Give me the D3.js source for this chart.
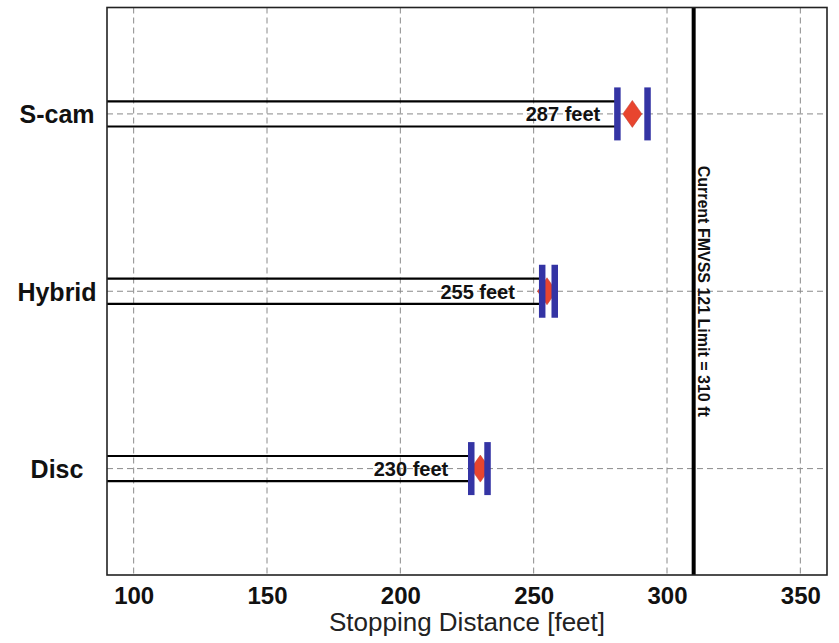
<!DOCTYPE html>
<html>
<head>
<meta charset="utf-8">
<script src="https://cdn.jsdelivr.net/npm/d3@7"></script>
<style>
  html, body { margin: 0; padding: 0; background: #fff; }
  svg { display: block; font-family: "Liberation Sans", Arial, sans-serif; }
</style>
</head>
<body>
<svg id="chart" width="839" height="643"></svg>
<script>
// ---- data ----
const categories = ["Disc", "Hybrid", "S-cam"];
const meanDistance = [230, 255, 287];
const lowerBound = [226.6, 253.2, 281.4];
const upperBound = [232.7, 257.9, 292.7];
const pointLabels = ["230 feet", "255 feet", "287 feet"];
const xTicks = [100, 150, 200, 250, 300, 350];
const limitValue = 310;
const limitLabel = "Current FMVSS 121 Limit = 310 ft";
const xAxisTitle = "Stopping Distance [feet]";

// ---- layout ----
const svg = d3.select("#chart");
const pL = 107, pR = 827, pT = 7.5, pB = 575;

const x = d3.scaleLinear().domain([90, 360]).range([pL, pR]);
const y = d3.scaleLinear().domain([0.4, 3.6]).range([pB, pT]);
const catPos = categories.map((c, i) => i + 1);

const gridColor = "#8a8a8a";
const blue = "#3434a4";
const red = "#e8452f";

// vertical gridlines
svg.append("g").selectAll("line").data(xTicks).join("line")
  .attr("x1", d => x(d)).attr("x2", d => x(d))
  .attr("y1", pT).attr("y2", pB)
  .attr("stroke", gridColor).attr("stroke-width", 1)
  .attr("stroke-dasharray", "6,4");

// horizontal gridlines at categories
svg.append("g").selectAll("line").data(catPos).join("line")
  .attr("x1", pL).attr("x2", pR)
  .attr("y1", d => y(d)).attr("y2", d => y(d))
  .attr("stroke", gridColor).attr("stroke-width", 1)
  .attr("stroke-dasharray", "6,4");

// bars (outline only, two horizontal edges)
const barHalf = 12.6;
const bars = svg.append("g");
categories.forEach((c, i) => {
  const cy = y(catPos[i]);
  [cy - barHalf, cy + barHalf].forEach(yy => {
    bars.append("line")
      .attr("x1", x(90)).attr("x2", x(lowerBound[i]))
      .attr("y1", yy).attr("y2", yy)
      .attr("stroke", "#000").attr("stroke-width", 2.2);
  });
});

// point labels
svg.append("g").selectAll("text").data(categories).join("text")
  .attr("x", (d, i) => x(meanDistance[i] - 26))
  .attr("y", (d, i) => y(catPos[i]) + 7.5)
  .attr("text-anchor", "middle")
  .attr("font-size", 20).attr("font-weight", "bold")
  .attr("fill", "#111")
  .text((d, i) => pointLabels[i]);

// diamonds
const dw = 9.5, dh = 13.5;
svg.append("g").selectAll("path").data(categories).join("path")
  .attr("d", (d, i) => {
    const cx = x(meanDistance[i]), cy = y(catPos[i]);
    return `M${cx},${cy - dh}L${cx + dw},${cy}L${cx},${cy + dh}L${cx - dw},${cy}Z`;
  })
  .attr("fill", red).attr("stroke", "#c0392b").attr("stroke-width", 0.5);

// interval end bars
const ebHalf = 26.5;
const ends = svg.append("g");
categories.forEach((c, i) => {
  const cy = y(catPos[i]);
  [lowerBound[i], upperBound[i]].forEach(v => {
    ends.append("line")
      .attr("x1", x(v)).attr("x2", x(v))
      .attr("y1", cy - ebHalf).attr("y2", cy + ebHalf)
      .attr("stroke", blue).attr("stroke-width", 6.5);
  });
});

// limit line
svg.append("line")
  .attr("x1", x(limitValue)).attr("x2", x(limitValue))
  .attr("y1", pT).attr("y2", pB)
  .attr("stroke", "#000").attr("stroke-width", 4);

svg.append("text")
  .attr("transform", `translate(${x(limitValue) + 4},${y(2)}) rotate(90)`)
  .attr("text-anchor", "middle")
  .attr("font-size", 16).attr("font-weight", "bold")
  .attr("fill", "#111")
  .text(limitLabel);

// frame
svg.append("rect")
  .attr("x", pL).attr("y", pT)
  .attr("width", pR - pL).attr("height", pB - pT)
  .attr("fill", "none").attr("stroke", "#222").attr("stroke-width", 1.6);

// x axis
const xAxis = d3.axisBottom(x).tickValues(xTicks).tickSize(0).tickPadding(0);
const gx = svg.append("g").attr("transform", `translate(0,${pB})`).call(xAxis);
gx.select(".domain").remove();
gx.selectAll("text")
  .attr("dy", null).attr("y", 29)
  .attr("font-size", 24).attr("font-weight", "bold")
  .attr("font-family", "Liberation Sans, Arial, sans-serif")
  .attr("fill", "#111");

// y category labels
const yAxis = d3.axisLeft(y).tickValues(catPos).tickFormat((d, i) => categories[i]).tickSize(0);
const gy = svg.append("g").attr("transform", `translate(${pL},0)`).call(yAxis);
gy.select(".domain").remove();
gy.selectAll("text")
  .attr("x", 57 - pL).attr("dy", "0.35em")
  .attr("text-anchor", "middle")
  .attr("font-size", 25).attr("font-weight", "bold")
  .attr("font-family", "Liberation Sans, Arial, sans-serif")
  .attr("fill", "#111");

// axis title
svg.append("text")
  .attr("x", (pL + pR) / 2).attr("y", 631)
  .attr("text-anchor", "middle")
  .attr("font-size", 26)
  .attr("fill", "#222")
  .text(xAxisTitle);
</script>
</body>
</html>
